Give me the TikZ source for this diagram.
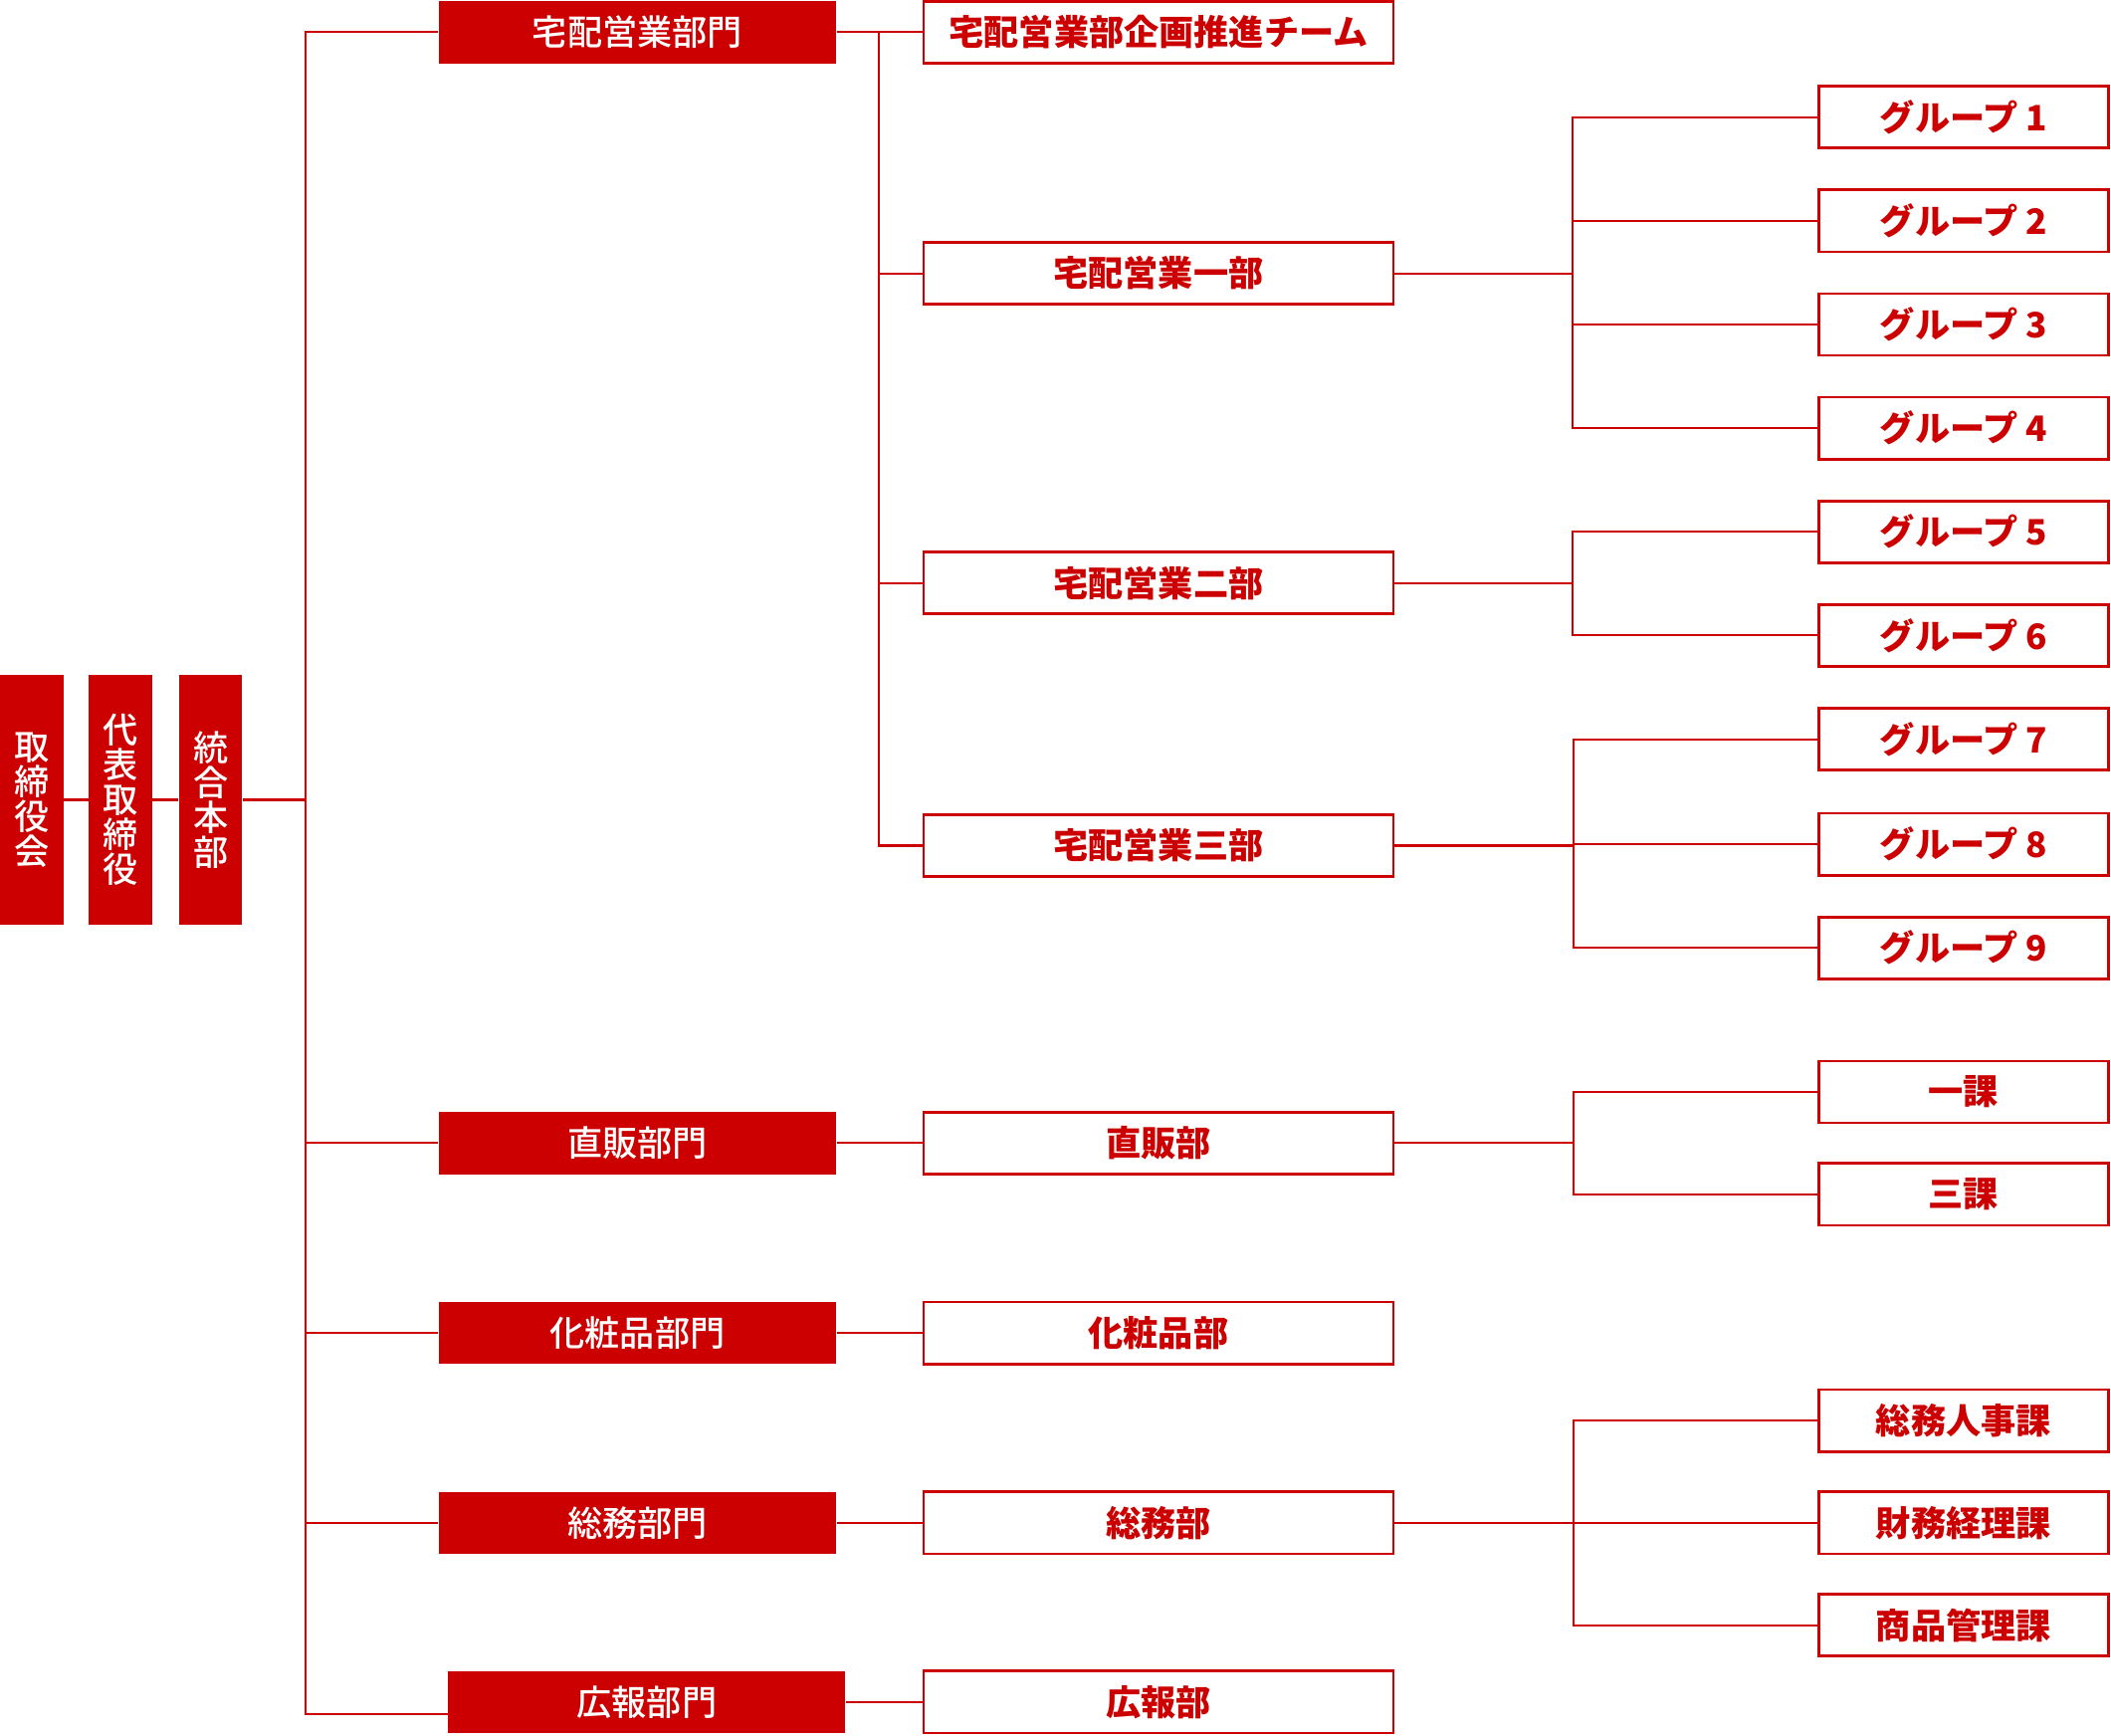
\documentclass[tikz,border=0pt]{standalone}
\usepackage{fontspec}
\setmainfont{Noto Sans CJK JP}
\newfontfamily\medfont{Noto Sans CJK JP Medium}
\usepackage{tikz}
\usetikzlibrary{positioning}
\definecolor{brand}{HTML}{CC0000}

\begin{document}
\begin{tikzpicture}
		[
		x = 0.5pt, y = -0.5pt,
		every node/.style = {inner sep = 0pt, font = \fontsize{13}{13}\selectfont},
		topbox/.style = {fill = brand, text = white, font = \fontsize{13}{13}\selectfont\medfont, minimum width = 23.5pt, minimum height = 93pt, align = center},
		divbox/.style = {fill = brand, text = white, font = \fontsize{13}{13}\selectfont\medfont, minimum width = 147.5pt, minimum height = 23pt},
		deptbox/.style = {draw = brand, line width = 1pt, fill = white, text = brand, font = \fontsize{13}{13}\selectfont\bfseries, minimum width = 174.5pt, minimum height = 23pt},
		grpbox/.style = {deptbox, minimum width = 107.5pt},
		link/.style = {draw = brand, line width = 0.75pt}
		]
		
		\useasboundingbox (0,0) rectangle (1568,1289);
		
		% top of the tree
		\node [topbox] (board) at (23.5,594) {取\\締\\役\\会};
		\node [topbox] (ceo) at (89.5,594) {代\\表\\取\\締\\役};
		\node [topbox] (hq) at (156.5,594) {統\\合\\本\\部};
		
		% divisions
		\node [divbox] (div1) at (473.5,24) {宅配営業部門};
		\node [divbox] (div2) at (473.5,849) {直販部門};
		\node [divbox] (div3) at (473.5,990) {化粧品部門};
		\node [divbox] (div4) at (473.5,1131) {総務部門};
		\node [divbox] (div5) at (480.5,1264) {広報部門};
		
		% departments
		\node [deptbox] (plan) at (860.5,24) {宅配営業部企画推進チーム};
		\node [deptbox] (dlv1) at (860.5,203) {宅配営業一部};
		\node [deptbox] (dlv2) at (860.5,433) {宅配営業二部};
		\node [deptbox] (dlv3) at (860.5,628) {宅配営業三部};
		\node [deptbox] (direct) at (860.5,849) {直販部};
		\node [deptbox] (cosme) at (860.5,990) {化粧品部};
		\node [deptbox] (admin) at (860.5,1131) {総務部};
		\node [deptbox] (pr) at (860.5,1264) {広報部};
		
		% groups and sections
		\foreach \n/\y in {1/87, 2/164, 3/241, 4/318, 5/395, 6/472, 7/549, 8/627, 9/704}
			\node [grpbox] (g\n) at (1458.5,\y) {グループ \n};
		\node [grpbox] (ka1) at (1458.5,811) {一課};
		\node [grpbox] (ka3) at (1458.5,887) {三課};
		\node [grpbox] (hr) at (1458.5,1055) {総務人事課};
		\node [grpbox] (acct) at (1458.5,1131) {財務経理課};
		\node [grpbox] (goods) at (1458.5,1207) {商品管理課};
		
		% junctions
		\coordinate (trunk) at (227,594);
		\coordinate (jdlv) at (653,24);
		\coordinate (j1) at (1168,203);
		\coordinate (j2) at (1168,433);
		\coordinate (j3) at (1169,628);
		\coordinate (j4) at (1169,849);
		\coordinate (j5) at (1169,1131);
		
		\draw [link] (board) -- (ceo);
		\draw [link] (ceo) -- (hq);
		\draw [link] (hq.east) -- (trunk);
		\foreach \d in {div1, div2, div3, div4}
			\draw [link] (trunk) |- (\d.west);
		\draw [link] (trunk) |- ([yshift=-4.5pt]div5.west);
		
		\draw [link] (div1.east) -- (plan.west);
		\foreach \d in {dlv1, dlv2, dlv3}
			\draw [link] (jdlv) |- (\d.west);
		\draw [link] (div2.east) -- (direct.west);
		\draw [link] (div3.east) -- (cosme.west);
		\draw [link] (div4.east) -- (admin.west);
		\draw [link] (div5.east) -- (pr.west);
		
		\draw [link] (dlv1.east) -- (j1);
		\foreach \g in {g1, g2, g3, g4}
			\draw [link] (j1) |- (\g.west);
		\draw [link] (dlv2.east) -- (j2);
		\foreach \g in {g5, g6}
			\draw [link] (j2) |- (\g.west);
		\draw [link] (dlv3.east) -- (j3);
		\foreach \g in {g7, g8, g9}
			\draw [link] (j3) |- (\g.west);
		\draw [link] (direct.east) -- (j4);
		\foreach \g in {ka1, ka3}
			\draw [link] (j4) |- (\g.west);
		\draw [link] (admin.east) -- (j5);
		\foreach \g in {hr, acct, goods}
			\draw [link] (j5) |- (\g.west);
		
		\end{tikzpicture}
\end{document}
